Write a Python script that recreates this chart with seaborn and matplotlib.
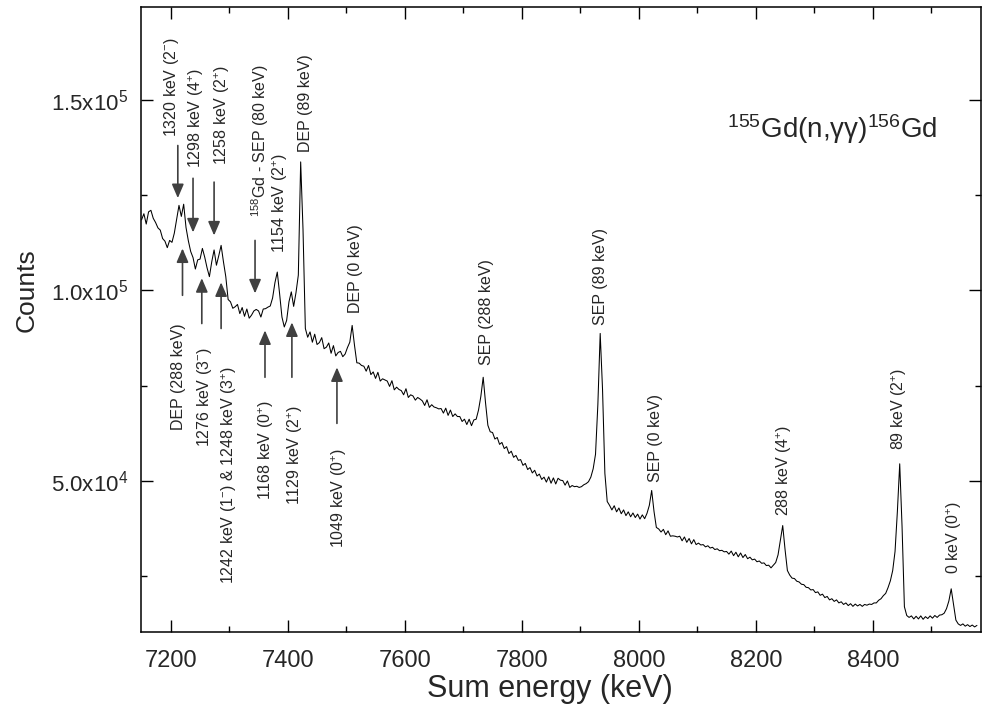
import numpy as np
import matplotlib
matplotlib.use("Agg")
import matplotlib.pyplot as plt
from matplotlib.ticker import MultipleLocator, FixedLocator
import seaborn as sns

# ---------------------------------------------------------------- data
# Sum-energy spectrum, 4 keV channels starting at 7150 keV
channel_start_kev = 7150
channel_width_kev = 4
counts = [
    118500, 120100, 117400, 120600, 121000, 118900, 117800, 116400, 115800, 113600,
    112900, 111200, 113100, 112600, 115000, 118600, 122300, 119400, 122600, 116500,
    113000, 110200, 108600, 105600, 108000, 108200, 111000, 108700, 105900, 103600,
    107500, 110600, 106600, 109100, 111800, 107500, 103600, 97600, 97000, 95300,
    95700, 96300, 93900, 95500, 93200, 95100, 92700, 93500, 94600, 95000,
    94600, 93000, 95100, 95200, 95600, 95900, 98000, 102000, 104800, 99100,
    93000, 90400, 92100, 97000, 99600, 95800, 99400, 104000, 133700, 116000,
    90000, 87700, 89100, 86400, 88500, 85800, 86300, 87600, 84700, 85100,
    86200, 83500, 85500, 82800, 83700, 84000, 82600, 83300, 85000, 86400,
    90800, 85600, 81000, 80900, 80300, 80100, 78800, 80300, 77900, 78600,
    76900, 78500, 76200, 76800, 76500, 76200, 74800, 76300, 73900, 74600,
    74000, 73700, 72600, 74200, 71900, 72600, 72300, 71200, 71900, 71500,
    71000, 69800, 71300, 69300, 70000, 69400, 69200, 68900, 69000, 67800,
    69100, 67200, 68600, 66900, 67600, 66900, 66900, 65600, 66200, 64800,
    66200, 64500, 66000, 66200, 68600, 72200, 77200, 70500, 64600, 62900,
    62700, 61000, 61400, 59600, 60100, 58500, 59000, 57200, 57800, 56200,
    56700, 55400, 55600, 54100, 54600, 53000, 53500, 52100, 52800, 51300,
    51800, 50400, 51000, 49700, 51100, 49400, 50800, 49200, 50700, 50200,
    50100, 48900, 50000, 48300, 48800, 48500, 48600, 48300, 48500, 49000,
    49300, 49800, 51000, 53200, 57000, 70000, 88700, 74000, 52000, 44600,
    43600, 42400, 43500, 41900, 42900, 41400, 42400, 40900, 41900, 40600,
    41600, 40400, 41300, 40000, 41100, 40100, 41500, 43600, 47500, 42000,
    37800, 37400, 36600, 37300, 35900, 36900, 35500, 35600, 35500, 35300,
    35500, 34300, 35300, 33900, 34900, 33500, 34600, 33300, 33700, 33200,
    33300, 32700, 33000, 32400, 32600, 32000, 32200, 31700, 31800, 31400,
    31500, 30800, 31600, 30400, 31300, 30100, 31100, 29900, 30700, 29600,
    30000, 29300, 29500, 28800, 29000, 28400, 28500, 27800, 27900, 27200,
    27900, 28600, 30600, 34500, 38300, 32000, 26500, 25300, 24500, 24400,
    23700, 23500, 22900, 22800, 22100, 22000, 21400, 21500, 20700, 20900,
    20000, 20300, 19400, 19700, 18800, 19100, 18400, 18800, 18000, 18300,
    17600, 18000, 17300, 17800, 17100, 17700, 17200, 17600, 17100, 17600,
    17400, 17700, 17600, 18000, 18000, 18700, 19100, 19900, 20500, 22000,
    23800, 26500, 31500, 42000, 54500, 38000, 17000, 14700, 14200, 14600,
    13800, 14500, 13800, 14600, 13700, 14400, 13900, 14600, 14000, 14700,
    14200, 14800, 14900, 15300, 16500, 18500, 21700, 17500, 13500, 12500,
    12100, 12500, 11900, 12300, 11800, 12200, 11700, 12100,
]
energy = channel_start_kev + channel_width_kev * np.arange(len(counts))

# Transitions marked with a downward arrow (label above the arrow)
down_labels = ["1320 keV (2$^{-}$)", "1298 keV (4$^{+}$)", "1258 keV (2$^{+}$)",
               "$^{158}$Gd - SEP (80 keV)"]
down_energy = [7212, 7238, 7274, 7344]

# Transitions marked with an upward arrow (label below the arrow)
up_labels = ["DEP (288 keV)", "1276 keV (3$^{-}$)",
             "1242 keV (1$^{-}$) & 1248 keV (3$^{+}$)",
             "1168 keV (0$^{+}$)", "1129 keV (2$^{+}$)", "1049 keV (0$^{+}$)"]
up_energy = [7220, 7253, 7286, 7361, 7407, 7484]

# Peaks labelled directly above the peak
peak_labels = ["1154 keV (2$^{+}$)", "DEP (89 keV)", "DEP (0 keV)",
               "SEP (288 keV)", "SEP (89 keV)", "SEP (0 keV)",
               "288 keV (4$^{+}$)", "89 keV (2$^{+}$)", "0 keV (0$^{+}$)"]
peak_energy = [7387, 7431, 7516, 7740, 7934, 8028, 8249, 8445, 8539]

y_major = [5.0e4, 1.0e5, 1.5e5]
y_major_labels = ["5.0x10$^{4}$", "1.0x10$^{5}$", "1.5x10$^{5}$"]
y_minor = [2.5e4, 7.5e4, 1.25e5]

# ---------------------------------------------------------------- layout
# arrow (tail, tip) heights and text offsets, in data units
down_layout = [  # (tail, tip, text dx, text bottom)
    (138000, 124200, -11, 140200),
    (129400, 115200, 5, 132000),
    (128400, 114400, 14, 132800),
    (113100, 99200, 9, 119200),
]
up_layout = [  # (tip, tail, text dx, text top)
    (111000, 98700, -6, 91300),
    (103200, 91300, 4, 85000),
    (102100, 90000, 14, 80300),
    (89500, 77200, 2, 71100),
    (91600, 77200, 5, 69800),
    (79800, 65100, 4, 58500),
]
peak_text_bottom = [109700, 136200, 94000, 80300, 90800, 49600, 40900, 58000, 25700]

# ---------------------------------------------------------------- style
sns.set_theme(style="ticks")
plt.rcParams["font.family"] = ["Liberation Sans", "DejaVu Sans"]
plt.rcParams["mathtext.fontset"] = "custom"
plt.rcParams["mathtext.rm"] = "Liberation Sans"
plt.rcParams["mathtext.it"] = "Liberation Sans:italic"
plt.rcParams["mathtext.bf"] = "Liberation Sans:bold"

fig = plt.figure(figsize=(9.83, 7.15), dpi=100)
ax = fig.add_axes([0.1434, 0.1165, 0.8546, 0.8735])

sns.lineplot(x=energy, y=counts, ax=ax, color="black", linewidth=0.75,
             estimator=None, sort=False)

ax.set_xlim(7149, 8585)
ax.set_ylim(10450, 174300)

ax.xaxis.set_major_locator(MultipleLocator(200))
ax.xaxis.set_minor_locator(MultipleLocator(100))
ax.yaxis.set_major_locator(FixedLocator(y_major))
ax.set_yticklabels(y_major_labels)
ax.yaxis.set_minor_locator(FixedLocator(y_minor))

ax.tick_params(which="both", direction="in", top=True, right=True,
               color="black", width=1.0)
ax.tick_params(which="major", length=8.5)
ax.tick_params(which="minor", length=4.5)
ax.tick_params(axis="x", which="major", labelsize=17, pad=13)
ax.tick_params(axis="y", which="major", labelsize=16, pad=9)
for s in ax.spines.values():
    s.set_linewidth(1.1)
    s.set_color("black")

ax.set_xlabel("Sum energy (keV)", fontsize=22)
ax.set_ylabel("Counts", fontsize=19)
ax.xaxis.set_label_coords(0.487, -0.068)
ax.yaxis.set_label_coords(-0.122, 0.547)

arrow_kw = dict(arrowstyle="-|>,head_length=0.7,head_width=0.3",
                color="#404040", lw=1.2, shrinkA=0, shrinkB=0,
                mutation_scale=12)
label_fs = 11.5

for lab, e, (tail, tip, dx, tb) in zip(down_labels, down_energy, down_layout):
    ax.annotate("", xy=(e, tip), xytext=(e, tail), arrowprops=arrow_kw)
    ax.text(e + dx, tb, lab, rotation=90, ha="center", va="bottom",
            fontsize=label_fs)

for lab, e, (tip, tail, dx, tt) in zip(up_labels, up_energy, up_layout):
    ax.annotate("", xy=(e, tip), xytext=(e, tail), arrowprops=arrow_kw)
    ax.text(e + dx, tt, lab, rotation=90, ha="center", va="top",
            fontsize=label_fs)

for lab, e, yb in zip(peak_labels, peak_energy, peak_text_bottom):
    ax.text(e, yb, lab, rotation=90, ha="center", va="bottom",
            fontsize=label_fs)

ax.text(0.6976, 0.7903, "$^{155}$Gd(n,γγ)$^{156}$Gd", transform=ax.transAxes,
        ha="left", va="baseline", fontsize=20)

fig.savefig("out.png", dpi=100, facecolor="white")
